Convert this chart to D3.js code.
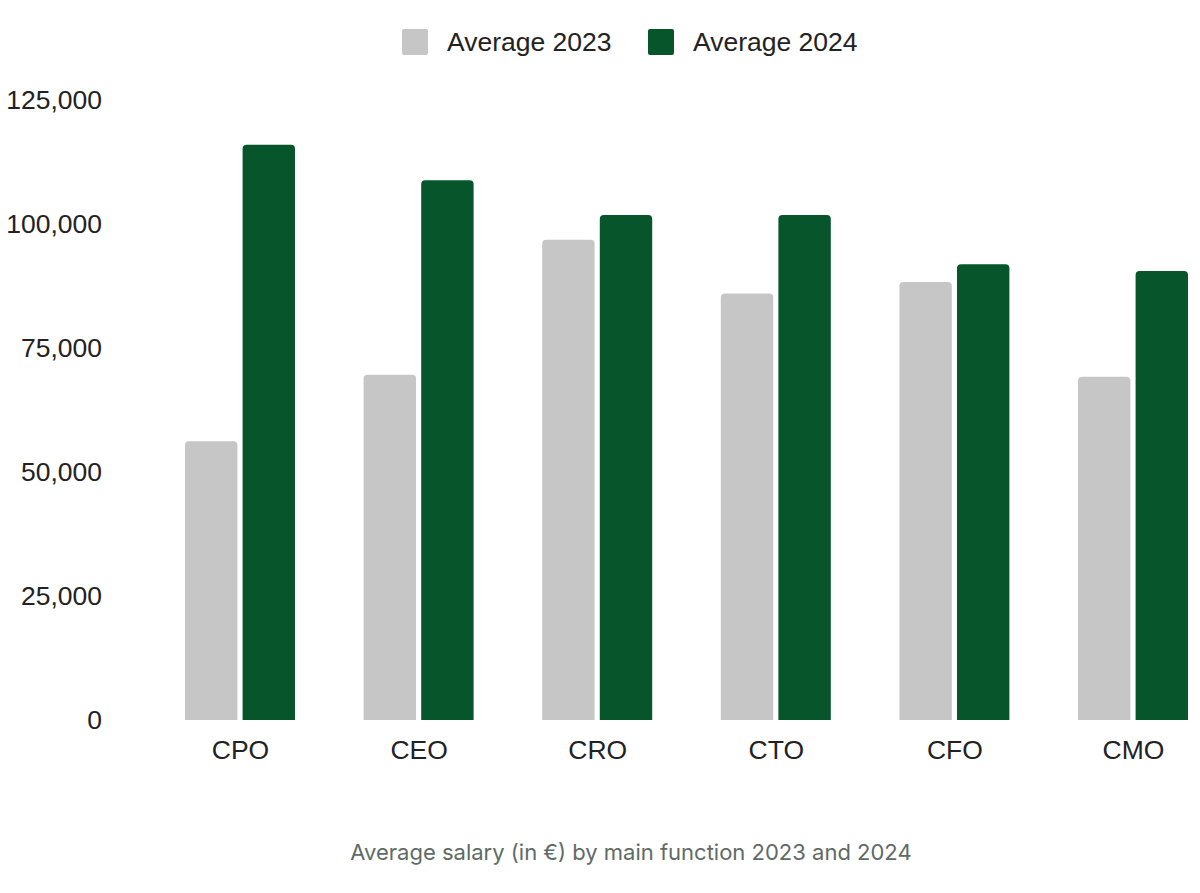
<!DOCTYPE html>
<html>
<head>
<meta charset="utf-8">
<script src="https://cdn.jsdelivr.net/npm/d3@7"></script>
<style>
  html, body { margin: 0; padding: 0; background: #fff; }
  svg { display: block; }
</style>
</head>
<body>
<svg id="chart" width="1200" height="893"></svg>
<script>
const categories = ["CPO", "CEO", "CRO", "CTO", "CFO", "CMO"];
const seriesNames = ["Average 2023", "Average 2024"];
const values2023 = [56200, 69600, 96800, 86000, 88300, 69200];
const values2024 = [116000, 108800, 101800, 101800, 91900, 90500];
const yTicks = [0, 25000, 50000, 75000, 100000, 125000];
const caption = "Average salary (in €) by main function 2023 and 2024";
const colors = ["#c6c6c6", "#07562b"];

const svg = d3.select("#chart");
const font = "'Liberation Sans', Arial, sans-serif";
const fs = 26.5;

const y = d3.scaleLinear().domain([0, 125000]).range([720, 100]);
const xCenter = d3.scalePoint().domain(categories).range([240, 1133]);
const xInner = d3.scaleBand().domain([0, 1]).range([-55, 55]).paddingInner(0.09);

// Y axis
const yAxis = d3.axisLeft(y).tickValues(yTicks).tickSize(0).tickPadding(0)
  .tickFormat(d3.format(","));
const yg = svg.append("g").attr("transform", "translate(102,0)").call(yAxis);
yg.select(".domain").remove();
yg.selectAll("text").attr("font-family", font).attr("font-size", fs).attr("fill", "#222");

// X axis labels
const xAxis = d3.axisBottom(xCenter).tickSize(0).tickPadding(0);
const xg = svg.append("g").attr("transform", "translate(0,740)").call(xAxis);
xg.select(".domain").remove();
xg.selectAll("text").attr("font-family", font).attr("font-size", fs).attr("fill", "#222");

function topRounded(x, yTop, w, h, r) {
  r = Math.min(r, h, w / 2);
  return `M${x},${yTop + h}V${yTop + r}Q${x},${yTop} ${x + r},${yTop}H${x + w - r}Q${x + w},${yTop} ${x + w},${yTop + r}V${yTop + h}Z`;
}

const series = [values2023, values2024];
series.forEach((vals, si) => {
  svg.append("g").selectAll("path").data(categories).join("path")
    .attr("d", (c, i) => {
      const x0 = xCenter(c) + xInner(si);
      const yt = y(vals[i]);
      return topRounded(x0, yt, xInner.bandwidth(), y(0) - yt, 4);
    })
    .attr("fill", colors[si]);
});

// Legend
const legendItems = [
  { name: seriesNames[0], color: colors[0], x: 402 },
  { name: seriesNames[1], color: colors[1], x: 648 }
];
const lg = svg.append("g");
legendItems.forEach(it => {
  lg.append("rect").attr("x", it.x).attr("y", 29).attr("width", 26).attr("height", 26)
    .attr("rx", 2).attr("fill", it.color);
  lg.append("text").attr("x", it.x + 45).attr("y", 42).attr("dy", "0.35em")
    .attr("font-family", font).attr("font-size", fs).attr("fill", "#222").text(it.name);
});

// Caption
svg.append("text").attr("x", 631).attr("y", 852).attr("dy", "0.35em")
  .attr("text-anchor", "middle").attr("font-family", "Inter, 'Noto Sans', sans-serif")
  .attr("font-size", 22).attr("fill", "#5f6b66").text(caption);
</script>
</body>
</html>
